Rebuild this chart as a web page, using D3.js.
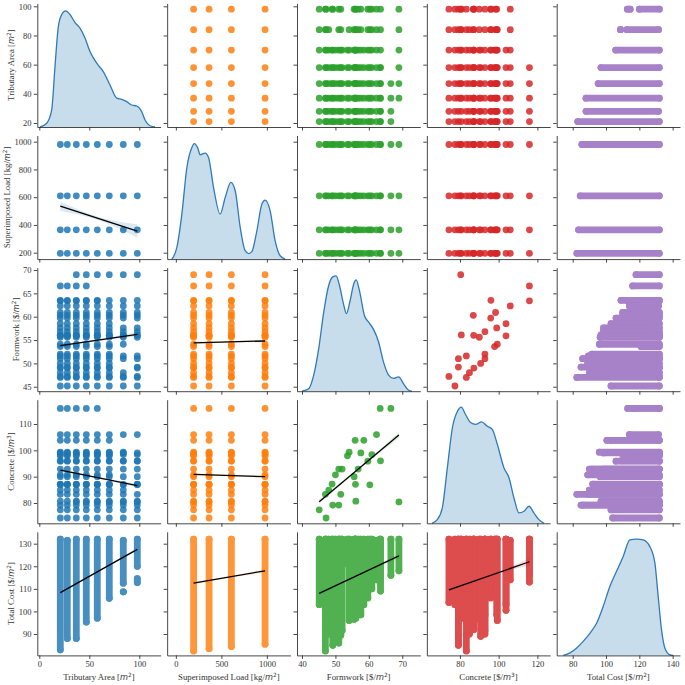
<!DOCTYPE html>
<html><head><meta charset="utf-8">
<script src="https://cdn.jsdelivr.net/npm/d3@7"></script>
<style>
body{margin:0;background:#fff}
svg{display:block}
text{font-family:"Liberation Serif","Times New Roman",serif;fill:#333}
</style>
</head><body>
<svg id="chart" width="685" height="685"></svg>
<script>
// ---------------- data ----------------
const labelParts = [
  ["Tributary Area [", "m", "2", "]"],
  ["Superimposed Load [kg/", "m", "2", "]"],
  ["Formwork [$/", "m", "2", "]"],
  ["Concrete [$/", "m", "3", "]"],
  ["Total Cost [$/", "m", "2", "]"]
];
const xTicks = [[0,50,100],[0,500,1000],[40,50,60,70],[80,100,120],[80,100,120,140]];
const yTicks = [[20,40,60,80,100],[200,400,600,800,1000],[45,50,55,60,65,70],[80,90,100,110],[90,100,110,120,130]];
const xLimits = [[-2,121.3],[-95.6,1259],[38.5,75.4],[62.9,126.6],[70.4,144.4]];
const yLimits = [[17.26,101.99],[153.9,1044.7],[44.04,70.52],[72.29,119.23],[80.52,135.27]];

const areaLevels = [21,28,37,47,58,70,84,98];
const loadLevels = [195,365,610,980];
// design alternatives: formwork / concrete unit costs and total cost span
const designFormwork = [69.0,66.6,63.4,63.5,62.3,60.3,60.9,59.7,58.5,57.6,56.1,56.0,55.6,56.8,55.9,54.1,53.6,52.0,51.0,51.6,51.0,49.2,50.0,49.0,48.0,47.0,47.2,45.15];
const designConcrete = [80.4,115.9,115.9,96.0,106.0,86.9,98.4,95.9,103.8,99.0,80.7,87.1,90.0,92.9,103.8,99.3,97.9,92.9,92.9,83.3,79.2,79.2,90.7,87.2,84.9,83.3,74.3,77.4];
const designCostLow = [118,116,113,109,114,110,110,106,103,98.5,97,101,96.5,98.5,100.5,96,121,91.5,90,89.5,86,85,89,92,90,82.5,104,103];
const designCostHigh = [132,132,132,132,131.5,132,132,132,132,132,132,132,132,132,132,132,132,132,132,132,132,132,132,132,132,132,132,132];
// designs (1-based) not present for each tributary area
const areaMissingDesigns = [[1],[1],[],[],[2],[2,3],[2,3,9,15,17,18,22,23,24],[2,3,9,15,16,17,18,23,25]];
// total cost spans: [level, low, high]
const areaCostSpans = [[21,83,132],[28,88,131.5],[37,88,132],[47,95.3,132],[58,97,132],[70,105.8,132],[84,112.5,131.5],[84,108.7,108.7],[98,120,132],[98,112.8,114.5]];
const loadCostSpans = [[195,82.5,132],[365,83.5,132],[610,84.5,132],[980,85.5,132]];

// KDE curves on the diagonal: [value, relative density]
const kdeArea = [[0.7,0],[7.4,0.03],[12.4,0.138],[15.7,0.49],[19,0.81],[22.4,0.91],[26.4,0.94],[30.7,0.91],[35.7,0.845],[40.7,0.8],[45.7,0.72],[50.7,0.61],[57.4,0.516],[64,0.448],[70.7,0.34],[77.4,0.233],[82.4,0.224],[87.4,0.205],[92.4,0.178],[97.4,0.17],[102.4,0.124],[105.7,0.057],[110.7,0.01],[115.7,0]];
const kdeLoad = [[-44,0],[11,0.094],[66,0.364],[121,0.741],[176,0.903],[204,0.935],[240,0.9],[267,0.844],[322,0.858],[359,0.822],[414,0.58],[487,0.364],[542,0.498],[604,0.62],[652,0.553],[707,0.256],[760,0.07],[800,0.045],[835,0.06],[890,0.229],[945,0.445],[981,0.477],[1036,0.39],[1091,0.148],[1146,0.027],[1201,0]];
const kdeFormwork = [[40,0],[42,0.02],[43.5,0.13],[45,0.345],[46.5,0.64],[48,0.857],[49.2,0.925],[50.2,0.933],[51.2,0.857],[52.5,0.696],[53.3,0.628],[54.3,0.72],[55.5,0.87],[56.2,0.9],[57.3,0.8],[58.7,0.61],[60,0.556],[61.4,0.5],[62.9,0.4],[64.4,0.235],[65.9,0.13],[67.4,0.103],[68.9,0.116],[70.4,0.06],[71.9,0.008],[72.9,0]];
const kdeConcrete = [[65.5,0],[68.3,0.03],[70.9,0.125],[73.5,0.45],[76.1,0.773],[78.7,0.906],[80.7,0.94],[82.9,0.88],[85.5,0.815],[88.1,0.8],[91.1,0.82],[94.2,0.785],[96.7,0.76],[99.3,0.64],[102.7,0.45],[105.3,0.37],[107.9,0.205],[110.5,0.084],[113.1,0.097],[115.7,0.138],[118.2,0.084],[120.8,0.03],[123.5,0]];
const kdeCost = [[74.4,0],[78.4,0.02],[82.4,0.06],[86.3,0.113],[90.4,0.18],[94.4,0.262],[98.3,0.396],[102.3,0.558],[106.3,0.68],[110.3,0.8],[114.3,0.935],[118.3,0.94],[122.3,0.935],[126.3,0.88],[129.3,0.75],[131.3,0.478],[133.3,0.208],[135.3,0.06],[138.3,0.005],[140.2,0]];

// regression fits in the lower panels: [row, col, x0, x1, y0, y1, ci0, ciMid, ci1]
const regFits = [
  [1,0,21,98,535,356,32,12,48],
  [2,0,21,98,53.8,56.2,0.32,0.18,0.45],
  [2,1,195,980,54.4,54.8,0.32,0.15,0.32],
  [3,0,21,98,92.5,86.6,0.6,0.3,0.75],
  [3,1,195,980,90.9,90.0,0.55,0.25,0.55],
  [3,2,45.15,69.0,80.5,105.8,0.8,0.35,1.1],
  [4,0,21,98,108.3,127.5,0.5,0.25,0.7],
  [4,1,195,980,112.5,118.0,0.7,0.3,0.9],
  [4,2,45.15,69.0,108.0,124.6,0.8,0.35,1.2],
  [4,3,74.3,115.9,109.5,122.0,0.7,0.35,1.5]
];

const colors = ["#1f77b4","#ff7f0e","#2ca02c","#d62728","#9467bd"];

// ---------------- layout ----------------
const N = 5, L0 = 37.3, PX = 129.85, W = 123.3, T0 = 3.4, PY = 132.1, H = 123.6;
const R = 3.4;
const svg = d3.select("#chart");

const xs = d3.range(N).map(c => d3.scaleLinear().domain(xLimits[c]).range([L0 + c*PX, L0 + c*PX + W]));
const ys = d3.range(N).map(r => d3.scaleLinear().domain(yLimits[r]).range([T0 + r*PY + H, T0 + r*PY]));

function pairPoints(a, b) { // a<b<4 -> [[va, vb]]
  const pts = [];
  if (a === 0 && b === 1) {
    areaLevels.forEach(ar => loadLevels.forEach(ld => pts.push([ar, ld])));
  } else if (a === 0) {
    areaLevels.forEach((ar, i) => designFormwork.forEach((f, d) => {
      if (!areaMissingDesigns[i].includes(d + 1)) pts.push([ar, b === 2 ? f : designConcrete[d]]);
    }));
  } else if (a === 1) {
    loadLevels.forEach(ld => designFormwork.forEach((f, d) => pts.push([ld, b === 2 ? f : designConcrete[d]])));
  } else {
    designFormwork.forEach((f, d) => pts.push([f, designConcrete[d]]));
  }
  const seen = new Set();
  return pts.filter(p => { const k = p.join("|"); if (seen.has(k)) return false; seen.add(k); return true; });
}
function costSpans(v) {
  if (v === 0) return areaCostSpans;
  if (v === 1) return loadCostSpans;
  if (v === 2) return designFormwork.map((f, d) => [f, designCostLow[d], designCostHigh[d]]);
  return designConcrete.map((c, d) => [c, designCostLow[d], designCostHigh[d]]);
}
const kdes = [kdeArea, kdeLoad, kdeFormwork, kdeConcrete, kdeCost];

const marks = svg.append("g");
for (let r = 0; r < N; r++) {
  for (let c = 0; c < N; c++) {
    const x = xs[c], y = ys[r];
    const g = marks.append("g");
    if (r === c) {
      const ky = d3.scaleLinear().domain([0, 1]).range([y.range()[0], y.range()[1]]);
      const area = d3.area().x(d => x(d[0])).y0(ky(0)).y1(d => ky(d[1])).curve(d3.curveMonotoneX);
      const line = d3.line().x(d => x(d[0])).y(d => ky(d[1])).curve(d3.curveMonotoneX);
      g.append("path").attr("d", area(kdes[r])).attr("fill", "#1f77b4").attr("fill-opacity", 0.25);
      g.append("path").attr("d", line(kdes[r])).attr("fill", "none").attr("stroke", "#2f7ab8").attr("stroke-width", 1.3);
      continue;
    }
    if (r === 4 || c === 4) {
      const other = r === 4 ? c : r;
      const spans = costSpans(other);
      const sg = g.append("g").attr("opacity", 0.82);
      spans.forEach(s => {
        let x1, y1, x2, y2;
        if (r === 4) { x1 = x2 = x(s[0]); y1 = y(s[1]); y2 = y(s[2]); }
        else { y1 = y2 = y(s[0]); x1 = x(s[1]); x2 = x(s[2]); }
        sg.append("line").attr("x1", x1).attr("y1", y1).attr("x2", x2).attr("y2", y2)
          .attr("stroke", colors[c]).attr("stroke-width", 2*R).attr("stroke-linecap", "round");
        sg.append("circle").attr("cx", x1).attr("cy", y1).attr("r", R).attr("fill", colors[c]);
        sg.append("circle").attr("cx", x2).attr("cy", y2).attr("r", R).attr("fill", colors[c]);
      });
    } else {
      const a = Math.min(r, c), b = Math.max(r, c);
      const pts = pairPoints(a, b);
      g.selectAll("circle").data(pts).join("circle")
        .attr("cx", p => x(c === a ? p[0] : p[1]))
        .attr("cy", p => y(r === a ? p[0] : p[1]))
        .attr("r", R).attr("fill", colors[c]).attr("fill-opacity", 0.85);
    }
  }
}

// regression lines with confidence bands
regFits.forEach(f => {
  const [r, c, x0, x1, y0, y1, e0, em, e1] = f;
  const x = xs[c], y = ys[r];
  const xm = (x0 + x1) / 2, ymv = (y0 + y1) / 2;
  const band = [[x0, y0, e0], [xm, ymv, em], [x1, y1, e1]];
  const ar = d3.area().x(d => x(d[0])).y0(d => y(d[1] - d[2])).y1(d => y(d[1] + d[2])).curve(d3.curveNatural);
  marks.append("path").attr("d", ar(band)).attr("fill", colors[c]).attr("fill-opacity", 0.16);
  marks.append("line").attr("x1", x(x0)).attr("y1", y(y0)).attr("x2", x(x1)).attr("y2", y(y1))
    .attr("stroke", "#000").attr("stroke-width", 1.3);
});

// axes
const fmt = d3.format("d");
const leftAxes = [];
for (let r = 0; r < N; r++) {
  for (let c = 0; c < N; c++) {
    const x = xs[c], y = ys[r];
    const gb = svg.append("g").attr("class", "ax").attr("transform", `translate(0,${y.range()[0]})`)
      .call(d3.axisBottom(x).tickValues(xTicks[c]).tickSize(3.5).tickSizeOuter(0).tickPadding(2.2).tickFormat(r === N-1 ? fmt : ""));
    const gl = svg.append("g").attr("class", "ax").attr("transform", `translate(${x.range()[0]},0)`)
      .call(d3.axisLeft(y).tickValues(yTicks[r]).tickSize(3.5).tickSizeOuter(0).tickPadding(2.2).tickFormat(c === 0 ? fmt : ""));
    if (c === 0) leftAxes[r] = gl;
  }
}
svg.selectAll(".ax .domain").attr("stroke", "#333").attr("stroke-width", 0.9);
svg.selectAll(".ax .tick line").attr("stroke", "#333").attr("stroke-width", 0.9);
svg.selectAll(".ax text").attr("font-size", 8.5).attr("font-family", "Liberation Serif, serif").attr("fill", "#333");

function addLabel(sel, parts) {
  sel.append("tspan").text(parts[0]);
  sel.append("tspan").text(parts[1]).attr("font-family", "DejaVu Sans, sans-serif").attr("font-style", "italic").attr("font-size", 8.2);
  sel.append("tspan").text(parts[2]).attr("font-family", "DejaVu Sans, sans-serif").attr("font-size", 5.8).attr("baseline-shift", "super");
  sel.append("tspan").text(parts[3]);
}
// x labels (bottom row)
for (let c = 0; c < N; c++) {
  const x = xs[c];
  const t = svg.append("text").attr("x", (x.range()[0] + x.range()[1]) / 2).attr("y", ys[N-1].range()[0] + 24.3)
    .attr("text-anchor", "middle").attr("font-size", 8.8);
  addLabel(t, labelParts[c]);
}
// y labels (left column)
for (let r = 0; r < N; r++) {
  const bb = leftAxes[r].selectAll("text").nodes().map(n => n.getBBox());
  const minX = d3.min(bb, b => b.x) + L0;
  const cy = (ys[r].range()[0] + ys[r].range()[1]) / 2;
  const lx = minX - 4.6;
  const t = svg.append("text").attr("transform", `translate(${lx},${cy}) rotate(-90)`)
    .attr("text-anchor", "middle").attr("font-size", 8.8);
  addLabel(t, labelParts[r]);
}
</script>
</body></html>
